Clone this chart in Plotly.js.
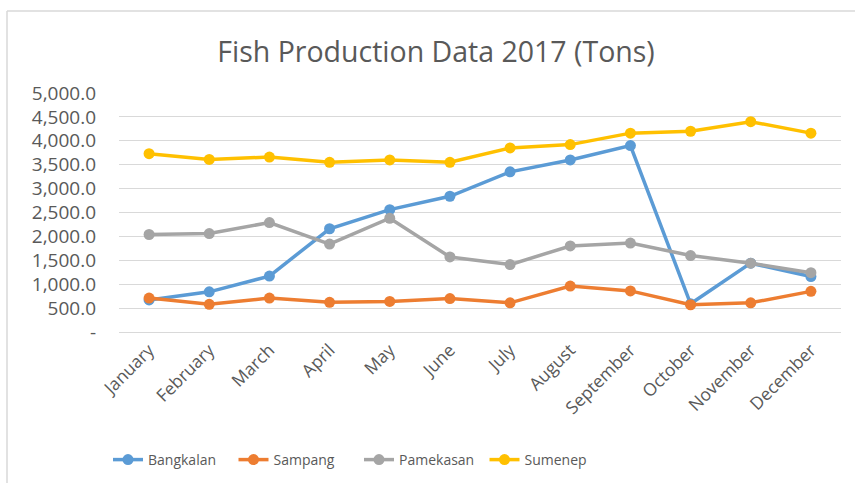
<!DOCTYPE html>
<html>
<head>
<meta charset="utf-8">
<script src="https://cdn.plot.ly/plotly-3.0.1.min.js"></script>
<style>
  html, body { margin: 0; padding: 0; background: #ffffff; }
  #chart { width: 855px; height: 483px; }
</style>
</head>
<body>
<div id="chart"></div>
<script>
const months = ["January", "February", "March", "April", "May", "June",
                "July", "August", "September", "October", "November", "December"];
const bangkalan = [670, 840, 1170, 2160, 2560, 2840, 3350, 3600, 3900, 590, 1440, 1160];
const sampang   = [710, 580, 710, 620, 640, 700, 610, 960, 860, 570, 610, 850];
const pamekasan = [2040, 2060, 2290, 1840, 2380, 1570, 1410, 1800, 1860, 1600, 1440, 1240];
const sumenep   = [3730, 3610, 3660, 3550, 3600, 3550, 3850, 3920, 4160, 4200, 4400, 4160];

const yTickValues = [0, 500, 1000, 1500, 2000, 2500, 3000, 3500, 4000, 4500, 5000];
const yTickLabels = ["-", "500.0", "1,000.0", "1,500.0", "2,000.0", "2,500.0",
                     "3,000.0", "3,500.0", "4,000.0", "4,500.0", "5,000.0"];

const seriesNames = ["Bangkalan", "Sampang", "Pamekasan", "Sumenep"];
const seriesData = [bangkalan, sampang, pamekasan, sumenep];
const seriesColors = ["#5B9BD5", "#ED7D31", "#A5A5A5", "#FFC000"];

const FONT = "Open Sans, sans-serif";
const TXT = "#595959";

const traces = seriesNames.map((name, i) => ({
  type: "scatter",
  mode: "lines+markers",
  name: name,
  x: months,
  y: seriesData[i],
  line: { color: seriesColors[i], width: 3.5 },
  marker: { color: seriesColors[i], size: 11, symbol: "circle" }
}));

const L = 119, R = 841, T = 93, B = 332, W = 855, H = 483;
const pw = R - L, ph = B - T;
const px = v => (v - L) / pw;
const py = v => (B - v) / ph;

const layout = {
  width: W, height: H,
  margin: { l: L, r: W - R, t: T, b: H - B, pad: 0, autoexpand: false },
  paper_bgcolor: "#ffffff",
  plot_bgcolor: "#ffffff",
  font: { family: FONT, color: TXT },
  title: {
    text: "Fish Production Data 2017 (Tons)",
    font: { family: FONT, size: 28.5, color: TXT },
    x: 0.51, xref: "container", xanchor: "center",
    y: 1 - 52 / H, yref: "container", yanchor: "middle"
  },
  xaxis: {
    type: "category",
    range: [-0.5, months.length - 0.5],
    tickangle: -45,
    tickfont: { family: FONT, size: 17.5, color: TXT },
    showgrid: false,
    showline: true, linecolor: "#D9D9D9", linewidth: 1,
    ticks: "",
    zeroline: false,
    automargin: false,
    fixedrange: true
  },
  yaxis: {
    range: [0, 5000],
    tickvals: yTickValues,
    ticktext: yTickLabels,
    tickfont: { family: FONT, size: 19, color: TXT },
    showgrid: true, gridcolor: "#D9D9D9", gridwidth: 1,
    showline: false,
    zeroline: false,
    ticks: "",
    ticklabelstandoff: 22,
    automargin: false,
    fixedrange: true
  },
  showlegend: true,
  legend: {
    orientation: "h",
    xref: "container", x: 108 / W, xanchor: "left",
    yref: "container", y: 1 - 460 / H, yanchor: "middle",
    font: { family: FONT, size: 14, color: TXT },
    bgcolor: "rgba(0,0,0,0)",
    itemwidth: 30,
    entrywidth: 80.5
  },
  shapes: [
    { type: "line", xref: "paper", yref: "paper", x0: px(7), x1: px(7), y0: py(11), y1: py(H + 5),
      line: { color: "#D9D9D9", width: 1.5 } },
    { type: "line", xref: "paper", yref: "paper", x0: px(7), x1: px(W + 5), y0: py(11), y1: py(11),
      line: { color: "#D9D9D9", width: 1.5 } }
  ]
};

Plotly.newPlot("chart", traces, layout, { displayModeBar: false, staticPlot: true });
</script>
</body>
</html>
